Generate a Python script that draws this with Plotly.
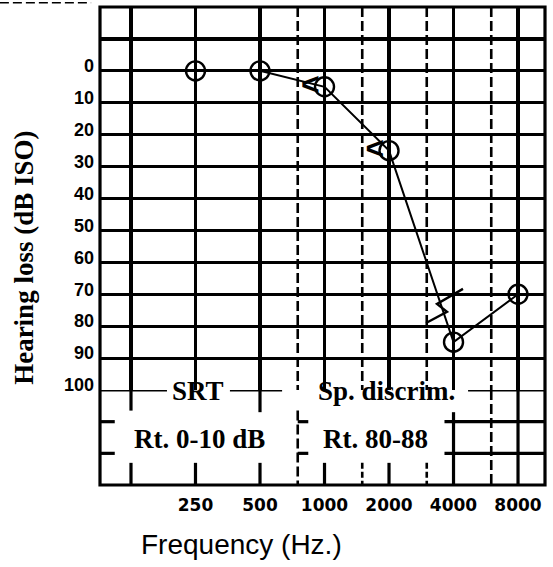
import numpy as np
import plotly.graph_objects as go

# ---------------- data ----------------
freqs = [250, 500, 1000, 2000, 4000, 8000]
air_db = [0, 0, 5, 25, 85, 70]            # right ear air conduction (O)
bone_freqs = [1000, 2000]
bone_db = [5, 25]                          # right ear bone conduction (<)
mark_freqs = [2977, 3730, 3350, 3812, 4428]   # hand-drawn mark near 4000 Hz
mark_db = [79, 75.5, 73, 70.8, 68.3]

major_freqs = [125, 250, 500, 1000, 2000, 4000, 8000]
half_octave_freqs = [750, 1500, 3000, 6000]
freq_labels = ["250", "500", "1000", "2000", "4000", "8000"]
db_grid = [-10, 0, 10, 20, 30, 40, 50, 60, 70, 80, 90]
db_labels = ["", "0", "10", "20", "30", "40", "50", "60", "70", "80", "90"]

srt_title = "SRT"
sd_title = "Sp. discrim."
srt_value = "Rt. 0-10 dB"
sd_value = "Rt. 80-88"

# ---------------- layout geometry ----------------
F_MIN, F_MAX = 89.6, 10690
xr = [np.log10(F_MIN), np.log10(F_MAX)]
D = 0.1987  # split between audiogram and table
W = 3.2
DASH = "10px,4px"

fig = go.Figure()

fig.add_trace(go.Scatter(
    x=freqs, y=air_db, xaxis="x2", yaxis="y", mode="lines+markers",
    line=dict(color="black", width=2),
    marker=dict(symbol="circle-open", size=19, color="black", line=dict(width=2.4, color="black")),
    showlegend=False, hoverinfo="skip"))

fig.add_trace(go.Scatter(
    x=bone_freqs, y=bone_db, xaxis="x2", yaxis="y", mode="markers+text",
    text=["<b><</b>"] * len(bone_freqs), textposition="middle left",
    textfont=dict(family="Liberation Sans", size=32, color="black"),
    marker=dict(size=6, color="rgba(0,0,0,0)"),
    showlegend=False, hoverinfo="skip"))

fig.add_trace(go.Scatter(
    x=mark_freqs, y=mark_db, xaxis="x2", yaxis="y", mode="lines",
    line=dict(color="black", width=2.4), showlegend=False, hoverinfo="skip"))

fig.add_trace(go.Scatter(x=[], y=[], xaxis="x", yaxis="y2", showlegend=False))

shapes = []


def seg(x0, x1, y0, y1, dash="solid", w=W, yref="y2", xref="x", layer="above"):
    shapes.append(dict(type="line", xref=xref, yref=yref, x0=x0, x1=x1, y0=y0, y1=y1,
                       layer=layer, line=dict(color="black", width=w, dash=dash)))


# dashed half-octave lines in the audiogram panel
for f in half_octave_freqs:
    seg(f, f, -20, 100, dash=DASH, w=2.6, yref="y", xref="x2", layer="below")

# ---------------- table (lower panel) ----------------
# broken 100 dB line
seg(F_MIN, 184, 100, 100)
seg(362, 634, 100, 100)
seg(4677, F_MAX, 100, 100)
# row lines
for yy in (110, 120):
    seg(F_MIN, 105, yy, yy)
    seg(750, 840, yy, yy)
    seg(3630, F_MAX, yy, yy)
# verticals
seg(125, 125, 100, 106.5)
seg(500, 500, 100, 107)
for f in (125, 250, 500, 1000, 2000):
    seg(f, f, 123, 130)
for f in (1500, 3000):
    seg(f, f, 123, 130, dash="6px,3px", w=2.6)
seg(750, 750, 106.5, 130, dash=DASH, w=2.6)
seg(4000, 4000, 107, 130)
seg(6000, 6000, 100, 130, dash=DASH, w=2.6)
seg(8000, 8000, 100, 130)

# outer frame
shapes.append(dict(type="rect", xref="paper", yref="paper", x0=0, x1=1, y0=0, y1=1,
                   line=dict(color="black", width=W)))
# scan artefact at top-left
shapes.append(dict(type="line", xref="paper", yref="paper", x0=-0.225, x1=-0.02, y0=1.009, y1=1.009,
                   line=dict(color="black", width=1.5, dash="9px,4px")))

serif = dict(family="Liberation Serif", size=27, color="black")
annotations = [
    dict(text="<b>%s</b>" % srt_title, x=np.log10(257), y=100.3, xref="x", yref="y2",
         showarrow=False, font=serif, xanchor="center", yanchor="middle"),
    dict(text="<b>%s</b>" % sd_title, x=np.log10(1955), y=100.3, xref="x", yref="y2",
         showarrow=False, font=serif, xanchor="center", yanchor="middle"),
    dict(text="<b>%s</b>" % srt_value, x=np.log10(262), y=115.4, xref="x", yref="y2",
         showarrow=False, font=serif, xanchor="center", yanchor="middle"),
    dict(text="<b>%s</b>" % sd_value, x=np.log10(1738), y=115.4, xref="x", yref="y2",
         showarrow=False, font=serif, xanchor="center", yanchor="middle"),
    dict(text="<b>Hearing loss (dB ISO)</b>", x=-0.171, y=0.475, xref="paper", yref="paper",
         textangle=-90, showarrow=False, font=serif, xanchor="center", yanchor="middle"),
    dict(text="Frequency (Hz.)", x=0.319, y=-0.1255, xref="paper", yref="paper",
         showarrow=False, font=dict(family="Liberation Sans", size=28, color="black"),
         xanchor="center", yanchor="middle"),
]

ytickfont = dict(family="Liberation Sans", size=18, color="black", weight="bold")

fig.update_layout(
    width=553, height=567,
    margin=dict(l=100, r=8, t=7, b=82, autoexpand=False),
    paper_bgcolor="white", plot_bgcolor="white",
    showlegend=False,
    xaxis=dict(type="log", domain=[0, 1], anchor="y2", range=xr, automargin=False,
               tickmode="array", tickvals=freqs, ticktext=freq_labels,
               ticks="", showgrid=False, zeroline=False, showline=False,
               ticklabelstandoff=8,
               tickfont=dict(family="DejaVu Sans", size=17, color="black", weight="bold")),
    xaxis2=dict(type="log", domain=[0, 1], anchor="y", range=xr, automargin=False,
                tickmode="array", tickvals=major_freqs, showticklabels=False, ticks="",
                showgrid=True, gridcolor="black", gridwidth=W, zeroline=False, showline=False),
    yaxis=dict(domain=[D, 1], range=[100, -20], anchor="x2", automargin=False,
               tickmode="array", tickvals=db_grid, ticktext=db_labels,
               ticks="", showgrid=True, gridcolor="black", gridwidth=W,
               zeroline=False, showline=False, ticklabelstandoff=5, ticklabelshift=5,
               tickfont=ytickfont),
    yaxis2=dict(domain=[0, D], range=[130, 100], anchor="x", automargin=False,
                tickmode="array", tickvals=[100], ticktext=["100"],
                ticks="", showgrid=False, zeroline=False, showline=False,
                ticklabelstandoff=5, ticklabelshift=5, tickfont=ytickfont),
    shapes=shapes,
    annotations=annotations,
)

fig.write_html("out.html", config={"displayModeBar": False, "staticPlot": True},
               post_script="document.body.style.margin='0px';document.body.style.overflow='hidden';")
